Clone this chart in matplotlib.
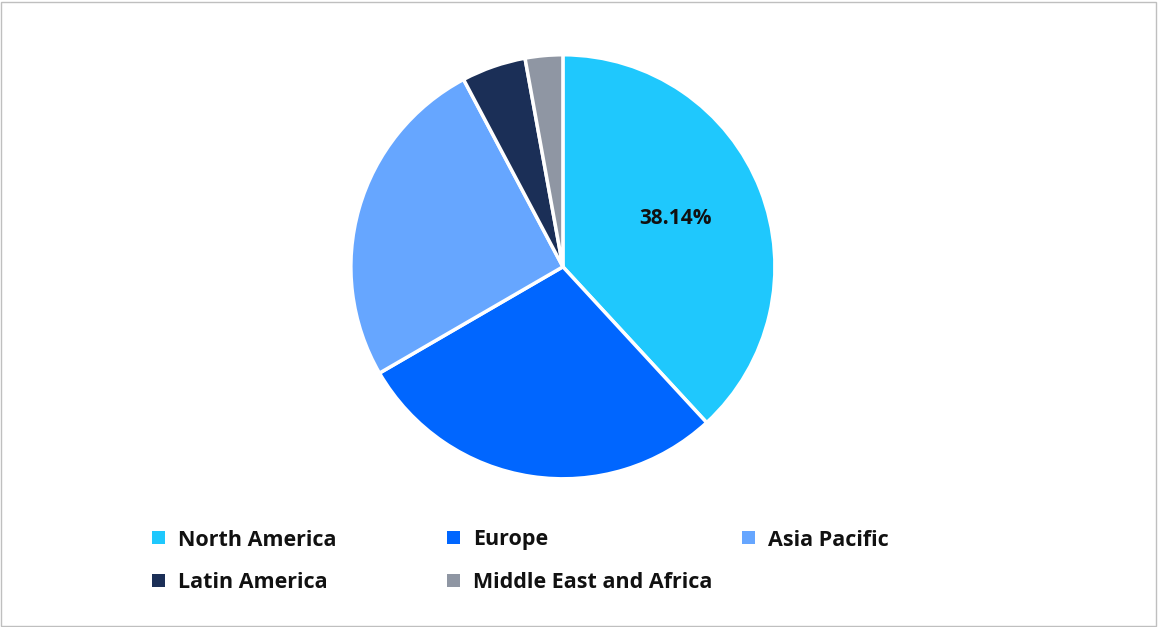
import matplotlib.pyplot as plt
from matplotlib.patches import Rectangle

plt.rcParams['font.family'] = ['Open Sans', 'DejaVu Sans']

regions = ["North America", "Europe", "Asia Pacific", "Latin America", "Middle East and Africa"]
shares = [38.14, 28.5, 25.6, 4.9, 2.86]
colours = ["#1FC8FD", "#0066FF", "#66A6FF", "#1B2F57", "#8F96A3"]

W, H = 1158, 627
fig = plt.figure(figsize=(W / 100, H / 100), dpi=100)
ax = fig.add_axes([0.3030, 0.236, 0.3662, 0.677])
wedges, texts = ax.pie(shares, colors=colours, startangle=90, counterclock=False,
                       wedgeprops=dict(edgecolor="white", linewidth=2.5))
ax.set_xlim(-1, 1)
ax.set_ylim(-1, 1)
ax.text(0.53, 0.23, f"{shares[0]:.2f}%", ha="center", va="center",
        fontsize=15, fontweight="bold", color="#111111")

# legend laid out row by row in fixed-width columns, as in the reference
for i, (name, colour) in enumerate(zip(regions, colours)):
    col, row = i % 3, i // 3
    x = 152 + col * 295
    y = 537 + row * 43
    fig.patches.append(Rectangle((x / W, 1 - (y + 7) / H), 13 / W, 13 / H,
                                 transform=fig.transFigure, facecolor=colour))
    fig.text((x + 26) / W, 1 - (y + 3) / H, name, ha="left", va="center",
             fontsize=15.5, fontweight="bold", color="#111111")

fig.patches.append(Rectangle((0.001, 0.002), 0.997, 0.995, transform=fig.transFigure,
                             fill=False, edgecolor="#BFBFBF", linewidth=1))
fig.savefig("out.png", dpi=100)
